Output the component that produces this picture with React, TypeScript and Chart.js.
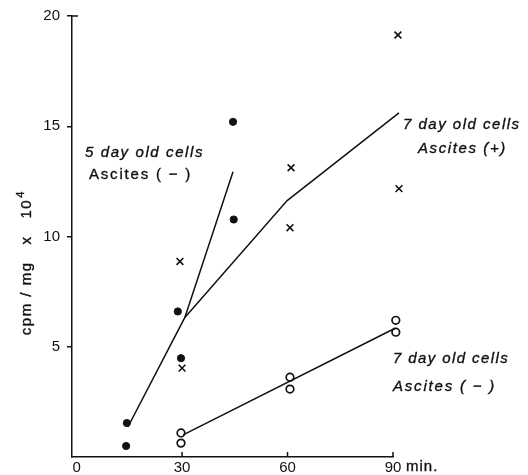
import React, { useEffect, useRef } from "react";
import { Chart, registerables } from "chart.js";

Chart.register(...registerables);

// ---- data (minutes, cpm/mg x 10^4) ----
const fiveDayX = [14.3, 14.1, 28.8, 29.7, 44.5, 44.7];
const fiveDayY = [1.54, 0.5, 6.6, 4.48, 15.2, 10.77];

const sevenPlusX = [29.4, 30.0, 61.0, 60.7, 91.4, 91.7];
const sevenPlusY = [8.87, 4.03, 13.12, 10.4, 19.14, 12.17];

const sevenMinusX = [29.7, 60.7, 90.8, 29.7, 60.7, 90.8];
const sevenMinusY = [1.09, 3.62, 6.2, 0.63, 3.08, 5.66];

const fiveDayLineX = [14.6, 30.8, 44.5];
const fiveDayLineY = [1.36, 6.33, 12.94];

const sevenPlusLineX = [30.8, 59.9, 91.7];
const sevenPlusLineY = [6.33, 11.63, 15.61];

const sevenMinusLineX = [30.3, 90.6];
const sevenMinusLineY = [1.0, 5.84];

const xTicks = [0, 30, 60, 90];
const xTickLabels = ["0", "30", "60", "90"];
const yTicks = [5, 10, 15, 20];
const yTickLabels = ["5", "10", "15", "20"];

const INK = "#111111";

const pts = (xs: number[], ys: number[]) => xs.map((x, i) => ({ x, y: ys[i] }));

const annotations = [
  { text: "5 day old cells", x: 85, y: 153, italic: true, spacing: 1.6 },
  { text: "Ascites ( − )", x: 89, y: 175, italic: false, spacing: 1.8 },
  { text: "7 day old cells", x: 403, y: 125, italic: true, spacing: 1.5 },
  { text: "Ascites (+)", x: 418, y: 149, italic: true, spacing: 1.6 },
  { text: "7 day old cells", x: 393, y: 359, italic: true, spacing: 1.4 },
  { text: "Ascites ( − )", x: 393, y: 387, italic: true, spacing: 1.8 },
];

const overlay = {
  id: "overlay",
  afterDraw(chart: any) {
    const { ctx } = chart;
    const xs = chart.scales.x;
    const ys = chart.scales.y;
    ctx.save();
    ctx.strokeStyle = INK;
    ctx.fillStyle = INK;
    ctx.lineWidth = 1.5;
    // inward tick marks on x axis
    const y0 = ys.getPixelForValue(0);
    for (const v of xTicks.slice(1)) {
      const px = xs.getPixelForValue(v);
      ctx.beginPath();
      ctx.moveTo(px, y0);
      ctx.lineTo(px, y0 - 5);
      ctx.stroke();
    }
    // top bracket
    const x0 = xs.getPixelForValue(xs.min);
    const ytop = ys.getPixelForValue(20);
    ctx.beginPath();
    ctx.moveTo(x0, ytop);
    ctx.lineTo(x0 + 6, ytop);
    ctx.stroke();

    ctx.lineWidth = 0.35;
    const write = (t: string, x: number, y: number) => {
      ctx.fillText(t, x, y);
      ctx.strokeText(t, x, y);
    };

    // "min." after 90
    ctx.font = "15px 'Liberation Sans'";
    (ctx as any).letterSpacing = "1px";
    ctx.textBaseline = "middle";
    ctx.textAlign = "left";
    write("min.", xs.getPixelForValue(90) + 13, 467);

    // annotations
    for (const a of annotations) {
      ctx.font = `${a.italic ? "italic " : ""}15px 'Liberation Sans'`;
      (ctx as any).letterSpacing = `${a.spacing}px`;
      write(a.text, a.x, a.y);
    }

    // y axis title
    ctx.save();
    ctx.translate(27, 261);
    ctx.rotate(-Math.PI / 2);
    ctx.textAlign = "center";
    ctx.font = "15px 'Liberation Sans'";
    (ctx as any).letterSpacing = "1.5px";
    const main = "cpm / mg   x   10";
    const w = ctx.measureText(main).width;
    write(main, -6, 0);
    ctx.font = "11px 'Liberation Sans'";
    ctx.textAlign = "left";
    write("4", -6 + w / 2 + 1, -6);
    ctx.restore();

    ctx.restore();
  },
};

export default function App() {
  const ref = useRef<HTMLCanvasElement | null>(null);
  useEffect(() => {
    document.body.style.margin = "0";
    const canvas = ref.current!;
    const lineDs = (xs: number[], ys: number[]) => ({
      data: pts(xs, ys),
      showLine: true,
      borderColor: INK,
      borderWidth: 1.5,
      pointRadius: 0,
      clip: false as any,
    });
    const chart = new Chart(canvas, {
      type: "scatter",
      data: {
        datasets: [
          lineDs(fiveDayLineX, fiveDayLineY),
          lineDs(sevenPlusLineX, sevenPlusLineY),
          lineDs(sevenMinusLineX, sevenMinusLineY),
          {
            data: pts(fiveDayX, fiveDayY),
            pointStyle: "circle",
            pointRadius: 3.6,
            backgroundColor: INK,
            borderColor: INK,
            borderWidth: 1,
            clip: false as any,
          },
          {
            data: pts(sevenPlusX, sevenPlusY),
            pointStyle: "crossRot",
            pointRadius: 4.8,
            borderColor: INK,
            borderWidth: 1.6,
            clip: false as any,
          },
          {
            data: pts(sevenMinusX, sevenMinusY),
            pointStyle: "circle",
            pointRadius: 3.8,
            backgroundColor: "#ffffff",
            borderColor: INK,
            borderWidth: 1.7,
            clip: false as any,
          },
        ],
      },
      options: {
        animation: false,
        responsive: false,
        maintainAspectRatio: false,
        layout: { padding: { left: 0, right: 135, top: 15, bottom: 0 } },
        plugins: { legend: { display: false }, tooltip: { enabled: false } },
        scales: {
          x: {
            type: "linear",
            min: -1.3,
            max: 90,
            afterBuildTicks: (s: any) => {
              s.ticks = xTicks.map((v) => ({ value: v }));
            },
            afterFit: (s: any) => {
              s.height = 18;
            },
            grid: { display: false, drawTicks: false },
            border: { display: true, color: INK, width: 1.5 },
            ticks: {
              padding: 2,
              color: INK,
              font: { family: "'Liberation Sans'", size: 15 },
              maxRotation: 0,
              autoSkip: false,
              callback: (v: any) => xTickLabels[xTicks.indexOf(Number(v))] ?? "",
            },
          },
          y: {
            type: "linear",
            min: 0,
            max: 20,
            afterBuildTicks: (s: any) => {
              s.ticks = yTicks.map((v) => ({ value: v }));
            },
            afterFit: (s: any) => {
              s.width = 72;
            },
            grid: { display: true, drawOnChartArea: false, drawTicks: true, tickLength: 5, color: INK, lineWidth: 1.5 },
            border: { display: true, color: INK, width: 1.5 },
            ticks: {
              padding: 7,
              color: INK,
              font: { family: "'Liberation Sans'", size: 15 },
              autoSkip: false,
              callback: (v: any) => yTickLabels[yTicks.indexOf(Number(v))] ?? "",
            },
          },
        },
      },
      plugins: [overlay],
    });
    return () => chart.destroy();
  }, []);
  return <canvas ref={ref} width={528} height={475} style={{ display: "block" }} />;
}
